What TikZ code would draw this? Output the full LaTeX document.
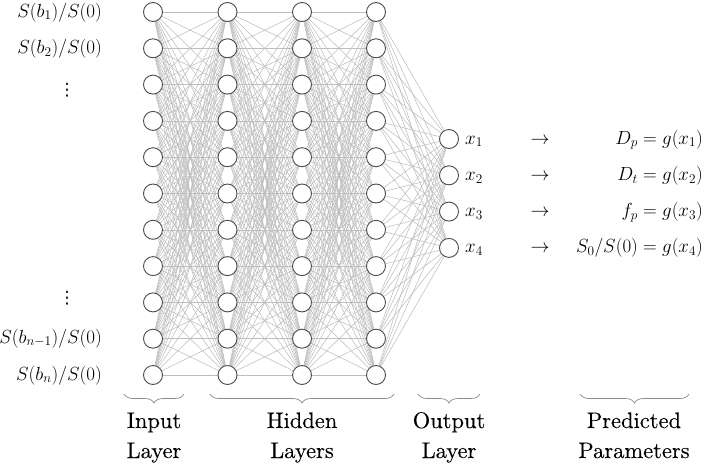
\RequirePackage{fix-cm}
\documentclass[tikz,border=0pt]{standalone}
\usepackage{fontspec}
\newfontfamily\dotsfont{DejaVu Sans}
\newfontfamily\labfont{lmroman10-regular.otf}[FakeBold=0.15]
\usetikzlibrary{backgrounds,decorations.pathreplacing}
\definecolor{edgegray}{RGB}{190,190,190}
\definecolor{nodegray}{RGB}{75,75,75}
\definecolor{bracegray}{RGB}{140,140,140}
\begin{document}
\begin{tikzpicture}[x=1pt,y=-1pt,
  neuron/.style={circle,draw=nodegray,fill=white,line width=0.9pt,minimum size=19pt,inner sep=0pt},
  conn/.style={draw=edgegray,line width=0.55pt},
  mlabel/.style={font=\fontsize{19}{22}\selectfont,inner sep=0pt},
  dlabel/.style={font=\dotsfont\fontsize{17}{20}\selectfont,inner sep=0pt},
  blabel/.style={font=\labfont\fontsize{22.5}{27}\selectfont,inner sep=0pt,anchor=base},
  bracestyle/.style={draw=bracegray,line width=0.7pt,decorate,decoration={brace,mirror,amplitude=9pt}}]
\useasboundingbox (0,0) rectangle (709,464);
% neurons
\foreach \l/\x in {0/153,1/227.5,2/302,3/376}{
  \foreach \i in {1,...,11}{
    \node[neuron] (n\l-\i) at (\x,{12+(\i-1)*36.3}) {};
  }
}
\foreach \i in {1,...,4}{
  \node[neuron] (o\i) at (449,{139+(\i-1)*36.3}) {};
}
% connections
\begin{pgfonlayer}{background}
\foreach \l/\m in {0/1,1/2,2/3}{
  \foreach \i in {1,...,11}{
    \foreach \j in {1,...,11}{
      \draw[conn] (n\l-\i.center) -- (n\m-\j.center);
    }
  }
}
\foreach \i in {1,...,11}{
  \foreach \j in {1,...,4}{
    \draw[conn] (n3-\i.center) -- (o\j.center);
  }
}
\end{pgfonlayer}
% input labels
\node[mlabel,anchor=base east] (l1) at (102,17) {$S(b_1)/S(0)$};
\node[mlabel,anchor=base east] (l2) at (102,53.3) {$S(b_2)/S(0)$};
\node[dlabel] (d1) at (67,90) {⋮};
\node[dlabel] (d2) at (67,298) {⋮};
\node[mlabel,anchor=base east] (l10) at (102,343) {$S(b_{n-1})/S(0)$};
\node[mlabel,anchor=base east] (l11) at (102,380) {$S(b_n)/S(0)$};
% output labels
\foreach \i/\f in {1/{D_p = g(x_1)},2/{D_t = g(x_2)},3/{f_p = g(x_3)},4/{S_0/S(0) = g(x_4)}}{
  \node[mlabel,anchor=base west] (x\i) at (465,{144+(\i-1)*36.3}) {$x_\i$};
  \node[mlabel,anchor=base] (a\i) at (540,{144+(\i-1)*36.3}) {$\rightarrow$};
  \node[mlabel,anchor=base east] (p\i) at (703,{144+(\i-1)*36.3}) {$\f$};
}
% braces
\coordinate (b1s) at (124,394); \coordinate (b1e) at (184,394);
\coordinate (b2s) at (210,394); \coordinate (b2e) at (394,394);
\coordinate (b3s) at (418,394); \coordinate (b3e) at (480,394);
\coordinate (b4s) at (580,394); \coordinate (b4e) at (689,394);
\draw[bracestyle] (b1s) -- (b1e);
\draw[bracestyle] (b2s) -- (b2e);
\draw[bracestyle] (b3s) -- (b3e);
\draw[bracestyle] (b4s) -- (b4e);
% bottom labels
\node[blabel] (t1a) at (154,428) {Input};
\node[blabel] (t1b) at (154,458) {Layer};
\node[blabel] (t2a) at (302,428) {Hidden};
\node[blabel] (t2b) at (302,458) {Layers};
\node[blabel] (t3a) at (449,428) {Output};
\node[blabel] (t3b) at (449,458) {Layer};
\node[blabel] (t4a) at (634,428) {Predicted};
\node[blabel] (t4b) at (634,458) {Parameters};
\end{tikzpicture}
\end{document}
